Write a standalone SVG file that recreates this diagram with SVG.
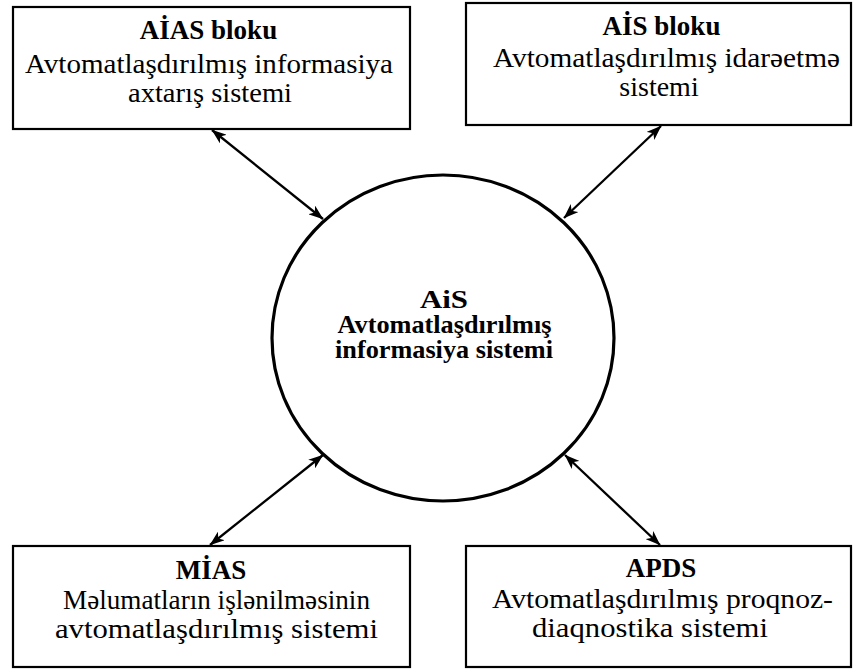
<svg xmlns="http://www.w3.org/2000/svg" width="853" height="670" viewBox="0 0 853 670">
  <style>
    .box { fill: #ffffff; stroke: #000000; stroke-width: 2.2; }
    .hub { fill: #ffffff; stroke: #000000; stroke-width: 3.2; }
    .title { font-family: "Liberation Serif", "Times New Roman", serif; font-weight: bold; font-size: 27px; fill: #000000; text-anchor: middle; }
    .body { font-family: "Liberation Serif", "Times New Roman", serif; font-size: 28px; fill: #000000; text-anchor: middle; }
    .hubtext { font-family: "Liberation Serif", "Times New Roman", serif; font-weight: bold; font-size: 25px; fill: #000000; text-anchor: middle; }
    .link { stroke: #000000; stroke-width: 2.3; fill: none; marker-start: url(#arrow); marker-end: url(#arrow); }
  </style>
  <defs>
    <marker id="arrow" viewBox="0 0 15 11" refX="14.5" refY="5.5" markerWidth="15" markerHeight="11" markerUnits="userSpaceOnUse" orient="auto-start-reverse">
      <path d="M0,0 L15,5.5 L0,11 L4,5.5 z" fill="#000000"/>
    </marker>
  </defs>
  <rect width="853" height="670" fill="#ffffff"/>

  <!-- central system -->
  <g id="ais">
    <ellipse class="hub" cx="443" cy="338" rx="171" ry="163"/>
    <text class="hubtext" x="444" y="308" textLength="48" lengthAdjust="spacingAndGlyphs">AiS</text>
    <text class="hubtext" x="444.5" y="333" textLength="214" lengthAdjust="spacingAndGlyphs">Avtomatlaşdırılmış</text>
    <text class="hubtext" x="444" y="358" textLength="218" lengthAdjust="spacingAndGlyphs">informasiya sistemi</text>
  </g>

  <!-- top-left block -->
  <g id="aias">
    <rect class="box" x="13" y="7" width="397" height="122"/>
    <text class="title" x="208.5" y="39">AİAS bloku</text>
    <text class="body" x="209" y="73" textLength="368" lengthAdjust="spacingAndGlyphs">Avtomatlaşdırılmış informasiya</text>
    <text class="body" x="210" y="102" textLength="164" lengthAdjust="spacingAndGlyphs">axtarış sistemi</text>
  </g>

  <!-- top-right block -->
  <g id="ais-blok">
    <rect class="box" x="466" y="3" width="385" height="122"/>
    <text class="title" x="661.5" y="35">AİS bloku</text>
    <text class="body" x="666.5" y="67" textLength="347" lengthAdjust="spacingAndGlyphs">Avtomatlaşdırılmış idarəetmə</text>
    <text class="body" x="659" y="96">sistemi</text>
  </g>

  <!-- bottom-left block -->
  <g id="mias">
    <rect class="box" x="13" y="546" width="397" height="121"/>
    <text class="title" x="211" y="579">MİAS</text>
    <text class="body" x="216.5" y="609" textLength="307" lengthAdjust="spacingAndGlyphs">Məlumatların işlənilməsinin</text>
    <text class="body" x="216.5" y="638" textLength="323" lengthAdjust="spacingAndGlyphs">avtomatlaşdırılmış sistemi</text>
  </g>

  <!-- bottom-right block -->
  <g id="apds">
    <rect class="box" x="466" y="546" width="385" height="121"/>
    <text class="title" x="661" y="577">APDS</text>
    <text class="body" x="662.5" y="608" textLength="341" lengthAdjust="spacingAndGlyphs">Avtomatlaşdırılmış proqnoz-</text>
    <text class="body" x="650" y="637" textLength="236" lengthAdjust="spacingAndGlyphs">diaqnostika sistemi</text>
  </g>

  <!-- two-way links between the blocks and the central system -->
  <g id="connectors">
    <line class="link" x1="212" y1="130" x2="323" y2="219"/>
    <line class="link" x1="661" y1="126" x2="564" y2="218"/>
    <line class="link" x1="323" y1="455" x2="210" y2="545"/>
    <line class="link" x1="565" y1="455" x2="660" y2="545"/>
  </g>
</svg>
